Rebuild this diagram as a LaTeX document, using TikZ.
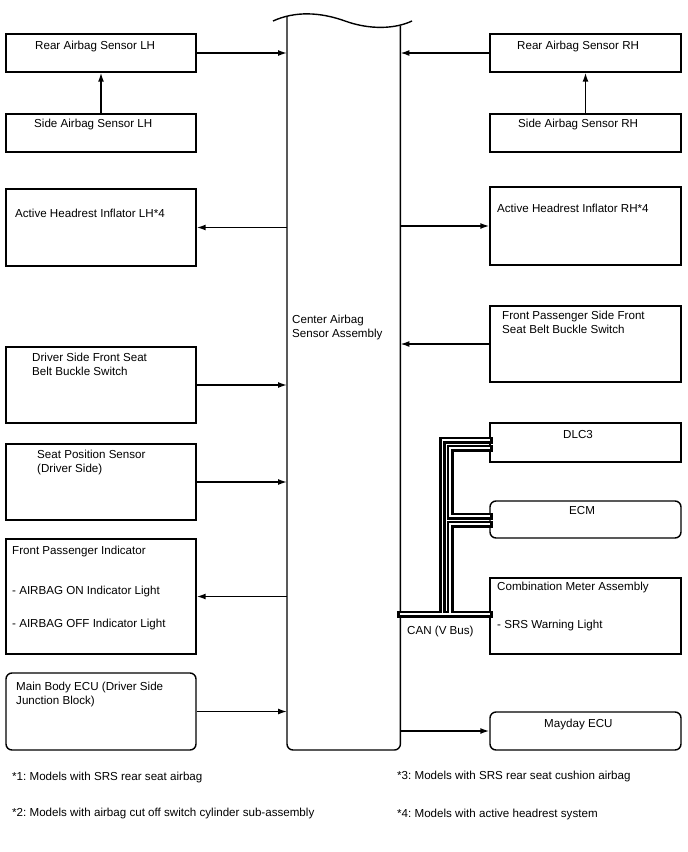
\documentclass[tikz,border=0pt]{standalone}
\usepackage{fontspec}
\setmainfont{Liberation Sans}
\usetikzlibrary{arrows.meta}
\frenchspacing
\begin{document}
\begin{tikzpicture}[x=1pt,y=1pt,
  font=\fontsize{11.6}{14}\selectfont,
  box/.style={draw, line width=1.4pt, inner sep=0pt, minimum width=190pt},
  rbox/.style={box, rounded corners=6pt},
  txt/.style={anchor=north west, inner sep=0pt, align=left},
  arr/.style={line width=1.5pt, -{Latex[length=9pt,width=6pt]}},
  busout/.style={line width=7pt, line cap=rect},
  busin/.style={line width=1.5pt, white, line cap=rect}]
\useasboundingbox (0,0) rectangle (688,-852);
% center assembly (outline drawn separately)
\node[inner sep=0pt, minimum width=113pt, minimum height=730pt, anchor=south west] (cab) at (287,-750) {};
\draw[line width=1.4pt, rounded corners=6pt] (cab.west |- 0,-17) -- (cab.south west) -- (cab.south east) -- (cab.east |- 0,-25.5);
\draw[line width=1.4pt] (273,-21) .. controls (295,-11) and (320,-12) .. (345,-21) .. controls (370,-30) and (395,-29) .. (412,-21);
\node[txt] (cabt) at (292,-314.5) {Center Airbag\\Sensor Assembly};
% left boxes
\node[box, minimum height=38pt] (rlh) at (101,-53) {};
\node[box, minimum height=38pt] (slh) at (101,-133) {};
\node[box, minimum height=77pt] (ahl) at (101,-227.5) {};
\node[box, minimum height=76pt] (dsb) at (101,-385) {};
\node[box, minimum height=76pt] (sps) at (101,-482) {};
\node[box, minimum height=115pt] (fpi) at (101,-596.5) {};
\node[rbox, minimum height=77pt] (mbe) at (101,-711.5) {};
% right boxes
\node[box, minimum width=191pt, minimum height=38pt] (rrh) at (585.5,-53) {};
\node[box, minimum width=191pt, minimum height=38pt] (srh) at (585.5,-133) {};
\node[box, minimum width=191pt, minimum height=78pt] (ahr) at (585.5,-226) {};
\node[box, minimum width=191pt, minimum height=76pt] (fps) at (585.5,-344) {};
\node[box, minimum width=191pt, minimum height=39pt] (dlc) at (585.5,-442.5) {};
\node[rbox, minimum width=191pt, minimum height=37pt] (ecm) at (585.5,-519.5) {};
\node[box, minimum width=191pt, minimum height=76pt] (cmb) at (585.5,-616) {};
\node[rbox, minimum width=191pt, minimum height=38pt] (may) at (585.5,-731) {};
% texts
\node[txt] (rlht) at (35,-40.5) {Rear Airbag Sensor LH};
\node[txt] (slht) at (34,-118.5) {Side Airbag Sensor LH};
\node[txt] (ahlt) at (15,-208.5) {Active Headrest Inflator LH*4};
\node[txt] (dsbt) at (32,-352.5) {Driver Side Front Seat\\Belt Buckle Switch};
\node[txt] (spst) at (37,-449.5) {Seat Position Sensor\\(Driver Side)};
\node[txt] (fpit) at (12,-545.5) {Front Passenger Indicator\\[26pt]- AIRBAG ON Indicator Light\\[19pt]- AIRBAG OFF Indicator Light};
\node[txt] (mbet) at (16,-681.5) {Main Body ECU (Driver Side\\Junction Block)};
\node[txt] (rrht) at (517,-40.5) {Rear Airbag Sensor RH};
\node[txt] (srht) at (518,-118.5) {Side Airbag Sensor RH};
\node[txt] (ahrt) at (497,-203.5) {Active Headrest Inflator RH*4};
\node[txt] (fpst) at (502,-310.5) {Front Passenger Side Front\\Seat Belt Buckle Switch};
\node[txt] (dlct) at (563,-430.5) {DLC3};
\node[txt] (ecmt) at (569,-506.5) {ECM};
\node[txt] (cmbt) at (497,-581.5) {Combination Meter Assembly\\[24pt]- SRS Warning Light};
\node[txt] (mayt) at (544,-718.5) {Mayday ECU};
\node[txt] (cant) at (407,-625.5) {CAN (V Bus)};
\node[txt] (n1) at (12,-771.5) {*1: Models with SRS rear seat airbag};
\node[txt] (n3) at (397,-770.5) {*3: Models with SRS rear seat cushion airbag};
\node[txt] (n2) at (12,-807.5) {*2: Models with airbag cut off switch cylinder sub-assembly};
\node[txt] (n4) at (397,-808.5) {*4: Models with active headrest system};
% arrows
\draw[arr] (rlh.east) -- (cab.west |- rlh.east);
\draw[arr] (slh.north) -- (rlh.south);
\draw[arr] (cab.west |- ahl.east) -- (ahl.east);
\draw[arr] (dsb.east) -- (cab.west |- dsb.east);
\draw[arr] (sps.east) -- (cab.west |- sps.east);
\draw[arr] (cab.west |- fpi.east) -- (fpi.east);
\draw[arr] (mbe.east) -- (cab.west |- mbe.east);
\draw[arr] (rrh.west) -- (cab.east |- rrh.west);
\draw[arr] (srh.north) -- (rrh.south);
\draw[arr] (cab.east |- ahr.west) -- (ahr.west);
\draw[arr] (fps.west) -- (cab.east |- fps.west);
\draw[arr] (cab.east |- may.west) -- (may.west);
% CAN bus
\coordinate (b1) at (442.5,-614);
\coordinate (b2) at (450,-614);
\coordinate (t1) at (442.5,-440);
\coordinate (t2) at (450,-448);
\coordinate (e1) at (450,-516);
\coordinate (e2) at (450,-524);
\foreach \s in {busout,busin}{
  \draw[\s] (cab.east |- b1) -- (cmb.west |- b1);
  \draw[\s] (b1) -- (t1) -- (dlc.west |- t1);
  \draw[\s] (dlc.west |- t2) -- (t2) -- (e1) -- (ecm.west |- e1);
  \draw[\s] (ecm.west |- e2) -- (e2) -- (b2);
}
\end{tikzpicture}
\end{document}
